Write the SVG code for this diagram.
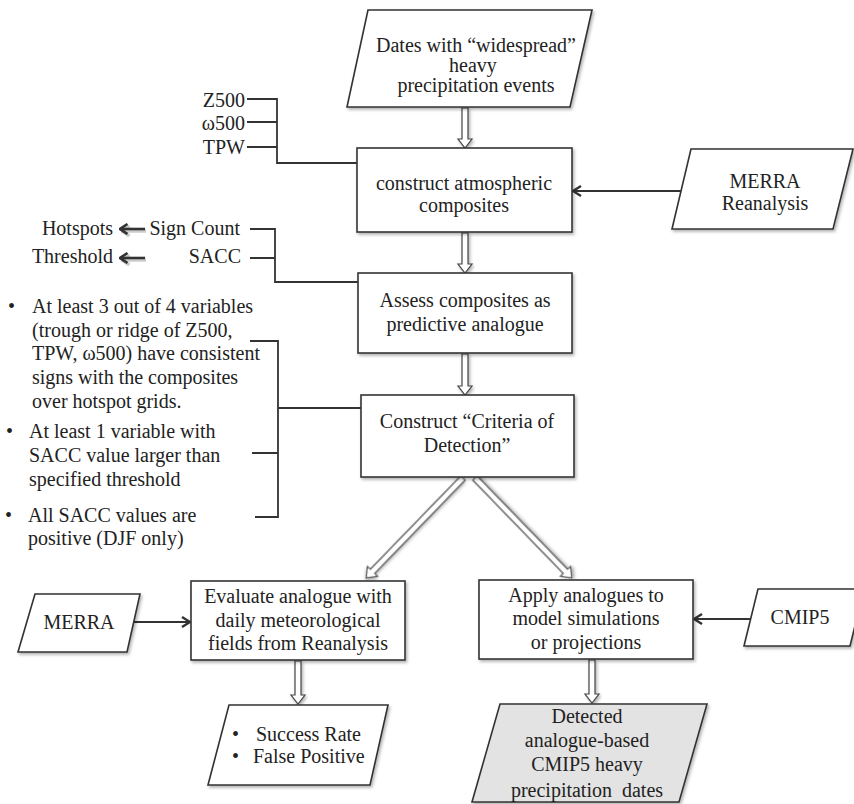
<svg xmlns="http://www.w3.org/2000/svg" width="854" height="804" viewBox="0 0 854 804" font-family="'Liberation Serif', 'Times New Roman', 'DejaVu Serif', serif">
<style>
text{font-family:'Liberation Serif','Times New Roman','DejaVu Serif',serif;font-size:20px;fill:#222}
.c{text-anchor:middle}
.e{text-anchor:end}
.shape{fill:#fff;stroke:#333;stroke-width:1.6;filter:url(#sh)}
.gray{fill:#e3e3e3}
.ln{fill:none;stroke:#333;stroke-width:1.8}
.ar{fill:none;stroke:#333;stroke-width:2;marker-end:url(#chev)}
.hol{fill:#fff;stroke:#444;stroke-width:1.2;filter:url(#sh)}
.bar{fill:none;stroke:#333;stroke-width:2.6;marker-end:url(#chev2)}
.barsh{fill:none;stroke:#000;stroke-opacity:0.2;stroke-width:3.5;marker-end:url(#chev3)}
</style>
<defs>
<filter id="sh" x="-10%" y="-10%" width="130%" height="130%">
<feDropShadow dx="1.5" dy="2" stdDeviation="1.5" flood-color="#000" flood-opacity="0.3"/>
</filter>
<marker id="chev" viewBox="0 0 10 12" refX="9" refY="6" markerWidth="10" markerHeight="12" markerUnits="userSpaceOnUse" orient="auto">
<polyline points="1,1 9,6 1,11" fill="none" stroke="#333" stroke-width="2.4"/>
</marker>
<marker id="chev2" viewBox="0 0 10 12" refX="9" refY="6" markerWidth="10" markerHeight="12" markerUnits="userSpaceOnUse" orient="auto">
<polyline points="1.5,1 9,6 1.5,11" fill="none" stroke="#333" stroke-width="2.6"/>
</marker>
<marker id="chev3" viewBox="0 0 10 12" refX="9" refY="6" markerWidth="10" markerHeight="12" markerUnits="userSpaceOnUse" orient="auto">
<polyline points="1.5,1 9,6 1.5,11" fill="none" stroke="#000" stroke-opacity="0.2" stroke-width="3.5"/>
</marker>
</defs>

<g id="connectors">
<polygon class="hol" points="462,108 468,108 468,139 472,139 465,148 458,139 462,139"/>
<polygon class="hol" points="462,233 468,233 468,264 472,264 465,273 458,264 462,264"/>
<polygon class="hol" points="462,354 468,354 468,386 472,386 465,395 458,386 462,386"/>
<polygon class="hol" points="295,661 301,661 301,695 305,695 298,704 291,695 295,695"/>
<polygon class="hol" points="589,660 595,660 595,694 599,694 592,703 585,694 589,694"/>
<g transform="translate(463,478) rotate(44.1)"><polygon class="hol" points="-3,0 3,0 3,130 7,130 0,139 -7,130 -3,130"/></g>
<g transform="translate(475,478) rotate(-44.1)"><polygon class="hol" points="-3,0 3,0 3,130 7,130 0,139 -7,130 -3,130"/></g>
<line class="ar" x1="681" y1="191" x2="573" y2="191"/>
<line class="ar" x1="132" y1="622" x2="190" y2="622"/>
<line class="ar" x1="752" y1="619" x2="694" y2="619"/>
<path class="ln" d="M247,99 H277 M247,122 H277 M247,147 H277 M277,98 V163 H357"/>
<path class="ln" d="M250,229 H275 M250,258 H275 M275,228 V282 H358"/>
<line class="barsh" x1="146" y1="231" x2="122" y2="231"/>
<line class="barsh" x1="146" y1="260" x2="122" y2="260"/>
<line class="bar" x1="145" y1="229" x2="120" y2="229"/>
<line class="bar" x1="145" y1="258" x2="120" y2="258"/>
<path class="ln" d="M250,341 H278 M252,453 H278 M255,517 H278 M278,340 V518 M278,408 H361"/>
</g>

<g id="dates">
<polygon class="shape" points="368,10 592,10 570,107 347,107"/>
<text class="c" x="476" y="52">Dates with “widespread”</text>
<text class="c" x="473" y="72">heavy</text>
<text class="c" x="476" y="92">precipitation events</text>
</g>

<g id="vars">
<text class="e" x="245" y="107">Z500</text>
<text class="e" x="245" y="130">ω500</text>
<text class="e" x="245" y="154">TPW</text>
</g>

<g id="composites">
<rect class="shape" x="357" y="148" width="215" height="84"/>
<text class="c" x="464" y="190">construct atmospheric</text>
<text class="c" x="464" y="212">composites</text>
</g>

<g id="merra-reanalysis">
<polygon class="shape" points="691,149 853,149 833,229 672,229"/>
<text class="c" x="765" y="188">MERRA</text>
<text class="c" x="765" y="210">Reanalysis</text>
</g>

<g id="signcount">
<text class="e" x="113" y="235">Hotspots</text>
<text class="e" x="240" y="235">Sign Count</text>
<text class="e" x="113" y="263">Threshold</text>
<text class="e" x="241" y="263">SACC</text>
</g>

<g id="assess">
<rect class="shape" x="358" y="273" width="214" height="80"/>
<text class="c" x="465" y="307">Assess composites as</text>
<text class="c" x="465" y="331">predictive analogue</text>
</g>

<g id="criteria-list">
<text x="8" y="313">•</text>
<text x="32" y="313">At least 3 out of 4 variables</text>
<text x="32" y="337">(trough or ridge of Z500,</text>
<text x="32" y="360">TPW, ω500) have consistent</text>
<text x="32" y="384">signs with the composites</text>
<text x="32" y="408">over hotspot grids.</text>
<text x="6" y="438">•</text>
<text x="29" y="438">At least 1 variable with</text>
<text x="29" y="462">SACC value larger than</text>
<text x="29" y="486">specified threshold</text>
<text x="5" y="522">•</text>
<text x="28" y="522">All SACC values are</text>
<text x="28" y="545">positive (DJF only)</text>
</g>

<g id="criteria">
<rect class="shape" x="361" y="395" width="213" height="82"/>
<text class="c" x="467" y="428">Construct “Criteria of</text>
<text class="c" x="467" y="452">Detection”</text>
</g>

<g id="merra">
<polygon class="shape" points="35,594 140,594 127,652 18,652"/>
<text class="c" x="79" y="629">MERRA</text>
</g>

<g id="evaluate">
<rect class="shape" x="191" y="581" width="214" height="79"/>
<text class="c" x="298" y="603">Evaluate analogue with</text>
<text class="c" x="298" y="627">daily meteorological</text>
<text class="c" x="298" y="650">fields from Reanalysis</text>
</g>

<g id="results">
<polygon class="shape" points="229,705 388,705 370,785 208,785"/>
<text x="232" y="741">•</text>
<text x="256" y="741">Success Rate</text>
<text x="232" y="763">•</text>
<text x="253" y="763">False Positive</text>
</g>

<g id="apply">
<rect class="shape" x="479" y="580" width="214" height="79"/>
<text class="c" x="586" y="602">Apply analogues to</text>
<text class="c" x="586" y="625">model simulations</text>
<text class="c" x="586" y="649">or projections</text>
</g>

<g id="cmip5">
<polygon class="shape" points="758,589 864,589 850,646 744,646"/>
<text class="c" x="800" y="624">CMIP5</text>
</g>

<g id="detected">
<polygon class="shape gray" points="500,704 707,704 679,802 472,802"/>
<text class="c" x="587" y="723">Detected</text>
<text class="c" x="587" y="747">analogue-based</text>
<text class="c" x="587" y="771">CMIP5 heavy</text>
<text class="c" x="587" y="797" xml:space="preserve">precipitation  dates</text>
</g>
</svg>
